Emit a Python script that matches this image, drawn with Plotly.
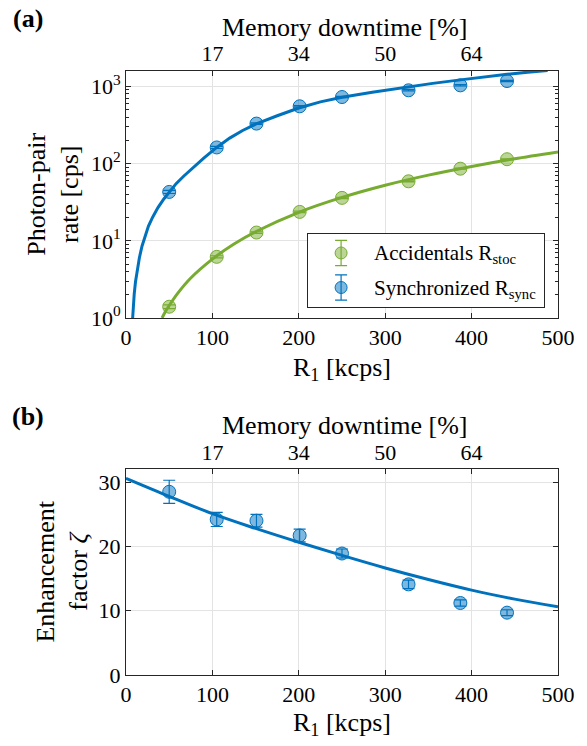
import plotly.graph_objects as go

# ---------------- data ----------------
R1 = [50, 105, 151, 201, 250, 327, 387, 441]
R_sync = [43, 162, 330, 553, 729, 891, 1033, 1175]
R_sync_err = [2, 5, 8, 12, 15, 18, 20, 22]
R_stoc = [1.40, 6.2, 12.8, 23.7, 36, 59, 86, 114]
R_stoc_err = [0.08, 0.2, 0.3, 0.5, 0.7, 1.0, 1.3, 1.6]

fit_sync_x = [7.7, 8.5, 9.5, 11, 13, 15.5, 18.5, 22, 26, 31, 37, 44, 50, 58, 67, 78, 90, 105,
              120, 135, 150, 175, 200, 225, 250, 285, 320, 355, 387, 415, 441, 465, 488]
fit_sync_y = [1.0, 1.48, 2.04, 2.95, 4.27, 6.03, 8.51, 11.6, 15.5, 20.4, 26.9, 35.1, 43.0, 55.0,
              69.2, 90.2, 117.5, 162, 214, 269, 324, 417, 525, 631, 724, 841, 966, 1096, 1216,
              1334, 1439, 1531, 1610]

fit_stoc_x = [41.7, 45, 50, 60, 75, 100, 125, 150, 200, 250, 300, 350, 400, 450, 500]
fit_stoc_y = [1.0, 1.18, 1.45, 2.1, 3.3, 5.8, 9.1, 13.1, 23.4, 36.5, 52.5, 71, 92, 116, 142]

zeta = [28.5, 24.2, 24.0, 21.7, 18.9, 14.1, 11.2, 9.7]
zeta_err = [1.8, 1.1, 1.0, 1.0, 0.7, 0.65, 0.5, 0.45]
zeta_fit_x = [0, 50, 100, 150, 200, 250, 300, 350, 400, 450, 500]
zeta_fit_y = [30.6, 27.8, 25.1, 22.8, 20.65, 18.6, 16.65, 14.85, 13.2, 11.8, 10.6]

x_ticks = [0, 100, 200, 300, 400, 500]
top_tick_pos = [100, 200, 300, 400]
top_tick_labels = ["17", "34", "50", "64"]
log_ticks = [1, 10, 100, 1000]
log_tick_labels = ["10<sup>0</sup>", "10<sup>1</sup>", "10<sup>2</sup>", "10<sup>3</sup>"]
zeta_ticks = [0, 10, 20, 30]

# ---------------- style ----------------
BLUE = "#0072BD"
GREEN = "#77AC30"
BLUE_FILL = "rgba(0,114,189,0.5)"
GREEN_FILL = "rgba(119,172,48,0.5)"
AX = "#262626"
GRID = "#e3e3e3"
FONT = "Liberation Serif"
FS = 22      # tick labels
FT = 26      # axis titles

W, H = 587, 746
L, R, T, B = 126, 25, 71, 71
PW, PH = W - L - R, H - T - B


def px(x):
    return (x - L) / PW


def py(y):
    return (H - B - y) / PH


fig = go.Figure()

# panel (a) fits
fig.add_trace(go.Scatter(x=fit_sync_x, y=fit_sync_y, mode="lines",
                         line=dict(color=BLUE, width=3),
                         xaxis="x", yaxis="y", showlegend=False, hoverinfo="skip"))
fig.add_trace(go.Scatter(x=fit_stoc_x, y=fit_stoc_y, mode="lines",
                         line=dict(color=GREEN, width=3, shape="spline", smoothing=0.8),
                         xaxis="x", yaxis="y", showlegend=False, hoverinfo="skip"))
# panel (a) data
fig.add_trace(go.Scatter(x=R1, y=R_stoc, mode="markers",
                         marker=dict(size=13, color=GREEN_FILL, line=dict(color=GREEN, width=1)),
                         error_y=dict(type="data", array=R_stoc_err, color=GREEN, thickness=1.2, width=6),
                         xaxis="x", yaxis="y", showlegend=False))
fig.add_trace(go.Scatter(x=R1, y=R_sync, mode="markers",
                         marker=dict(size=13, color=BLUE_FILL, line=dict(color=BLUE, width=1)),
                         error_y=dict(type="data", array=R_sync_err, color=BLUE, thickness=1.2, width=6),
                         xaxis="x", yaxis="y", showlegend=False))
# invisible trace for top axis of (a)
fig.add_trace(go.Scatter(x=R1, y=R_sync, mode="markers", marker=dict(opacity=0),
                         xaxis="x3", yaxis="y", showlegend=False, hoverinfo="skip"))

# panel (b)
fig.add_trace(go.Scatter(x=zeta_fit_x, y=zeta_fit_y, mode="lines",
                         line=dict(color=BLUE, width=3, shape="spline", smoothing=1.0),
                         xaxis="x2", yaxis="y2", showlegend=False, hoverinfo="skip"))
fig.add_trace(go.Scatter(x=R1, y=zeta, mode="markers",
                         marker=dict(size=13, color=BLUE_FILL, line=dict(color=BLUE, width=1)),
                         error_y=dict(type="data", array=zeta_err, color=BLUE, thickness=1.2, width=6),
                         xaxis="x2", yaxis="y2", showlegend=False))
fig.add_trace(go.Scatter(x=R1, y=zeta, mode="markers", marker=dict(opacity=0),
                         xaxis="x4", yaxis="y2", showlegend=False, hoverinfo="skip"))

# custom legend glyphs (axes x5/y5 span the legend box)
leg_x = 0.139
leg_rows = [0.74, 0.267]
leg_err = 0.174
fig.add_trace(go.Scatter(x=[leg_x], y=[leg_rows[0]], mode="markers",
                         marker=dict(size=12, color=GREEN_FILL, line=dict(color=GREEN, width=1)),
                         error_y=dict(type="constant", value=leg_err, color=GREEN, thickness=1.2, width=6),
                         xaxis="x5", yaxis="y5", showlegend=False, hoverinfo="skip"))
fig.add_trace(go.Scatter(x=[leg_x], y=[leg_rows[1]], mode="markers",
                         marker=dict(size=12, color=BLUE_FILL, line=dict(color=BLUE, width=1)),
                         error_y=dict(type="constant", value=leg_err, color=BLUE, thickness=1.2, width=6),
                         xaxis="x5", yaxis="y5", showlegend=False, hoverinfo="skip"))

tickfont = dict(family=FONT, size=FS, color="black")
common_x = dict(range=[0, 500], ticks="inside", ticklen=5, tickcolor=AX, showline=True,
                linecolor=AX, linewidth=1, zeroline=False, tickfont=tickfont)

dom_a = [py(318), 1.0]
dom_b = [0.0, py(469.3)]

fig.update_layout(
    width=W, height=H, margin=dict(l=L, r=R, t=T, b=B),
    paper_bgcolor="white", plot_bgcolor="white",
    font=dict(family=FONT, size=FS, color="black"),
    xaxis=dict(**common_x, anchor="y", domain=[0, 1], tickvals=x_ticks, mirror=True,
               showgrid=True, gridcolor=GRID, gridwidth=1),
    yaxis=dict(type="log", range=[0, 3.2], domain=dom_a, anchor="x", tickvals=log_ticks,
               ticktext=log_tick_labels, ticks="inside", ticklen=5, tickcolor=AX, showline=True,
               linecolor=AX, linewidth=1, mirror="ticks", showgrid=True, gridcolor=GRID,
               zeroline=False, tickfont=tickfont,
               minor=dict(tickvals=[m * 10 ** k for k in range(0, 4) for m in range(2, 10)],
                          ticks="inside", ticklen=3, tickcolor=AX, showgrid=False)),
    xaxis3=dict(**common_x, overlaying="x", side="top", anchor="y", tickvals=top_tick_pos,
                ticktext=top_tick_labels, showgrid=False),
    xaxis2=dict(**common_x, anchor="y2", domain=[0, 1], tickvals=x_ticks, mirror=True,
                showgrid=True, gridcolor=GRID, gridwidth=1),
    yaxis2=dict(range=[0, 32], domain=dom_b, anchor="x2", tickvals=zeta_ticks, ticks="inside",
                ticklen=5, tickcolor=AX, showline=True, linecolor=AX, linewidth=1, mirror="ticks",
                showgrid=True, gridcolor=GRID, zeroline=False, tickfont=tickfont),
    xaxis4=dict(**common_x, overlaying="x2", side="top", anchor="y2", tickvals=top_tick_pos,
                ticktext=top_tick_labels, showgrid=False),
    xaxis5=dict(domain=[px(310), px(548)], range=[0, 1], anchor="y5", showline=True, mirror=True,
                linecolor=AX, linewidth=1, ticks="", showticklabels=False, showgrid=False,
                zeroline=False, fixedrange=True),
    yaxis5=dict(domain=[py(307), py(234)], range=[0, 1], anchor="x5", showline=True, mirror=True,
                linecolor=AX, linewidth=1, ticks="", showticklabels=False, showgrid=False,
                zeroline=False, fixedrange=True),
    shapes=[dict(type="rect", xref="x5", yref="y5", x0=0, x1=1, y0=0, y1=1,
                 fillcolor="white", line=dict(width=0), layer="between")],
)

ann = []


def add_text(text, x, y, size=FT, xanchor="center", angle=0, bold=False):
    t = f"<b>{text}</b>" if bold else text
    ann.append(dict(text=t, x=px(x), y=py(y), xref="paper", yref="paper", showarrow=False,
                    xanchor=xanchor, yanchor="middle", textangle=angle,
                    font=dict(family=FONT, size=size, color="black")))


add_text("(a)", 27, 18, size=26, bold=True)
add_text("(b)", 27, 417, size=26, bold=True)
add_text("Memory downtime [%]", 347, 27)
add_text("Memory downtime [%]", 347, 426)
add_text("R<sub>1</sub> [kcps]", 344, 369)
add_text("R<sub>1</sub> [kcps]", 344, 724)
add_text("Photon-pair<br>rate [cps]", 52, 194, angle=-90)
add_text("Enhancement<br>factor <i>ζ</i>", 61, 572, angle=-90)
add_text("Accidentals R<sub>stoc</sub>", 374, 254, size=21, xanchor="left")
add_text("Synchronized R<sub>sync</sub>", 374, 289, size=21, xanchor="left")
fig.update_layout(annotations=ann)

fig.write_html("out.html")
